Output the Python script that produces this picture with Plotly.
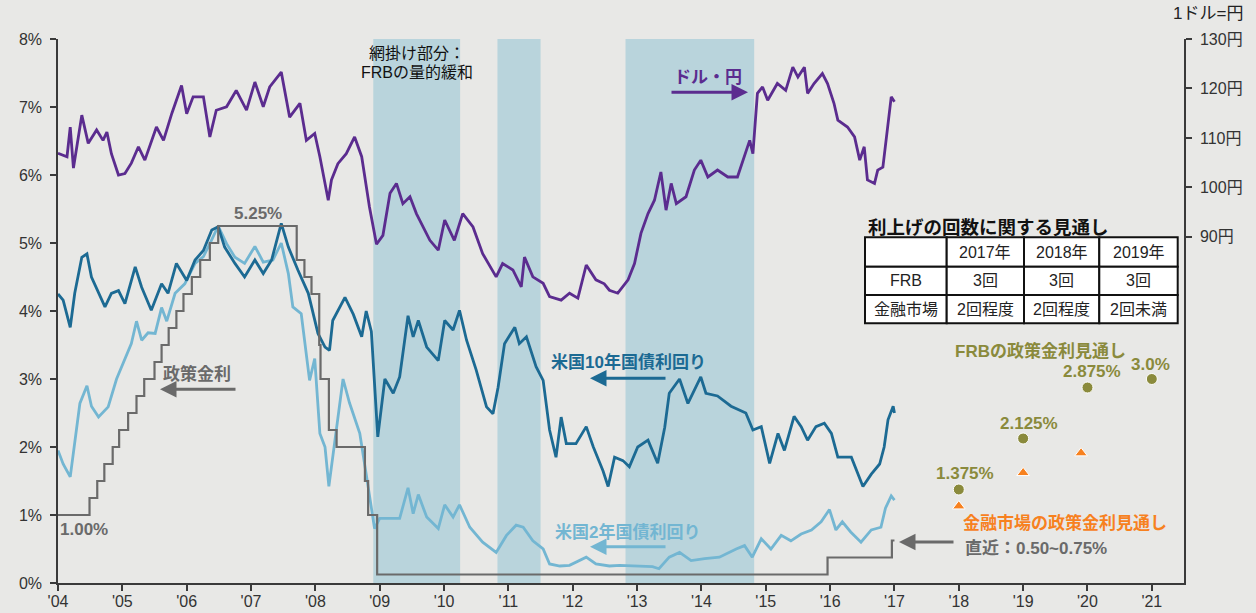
import plotly.graph_objects as go

# ---------------- data ----------------
jpy_x = [2004.00, 2004.14, 2004.19, 2004.24, 2004.37, 2004.47, 2004.60, 2004.70, 2004.76, 2004.83,
         2004.94, 2005.04, 2005.14, 2005.25, 2005.35, 2005.53, 2005.64, 2005.77, 2005.92, 2006.00,
         2006.10, 2006.26, 2006.36, 2006.46, 2006.62, 2006.77, 2006.93, 2007.06, 2007.19, 2007.29,
         2007.47, 2007.60, 2007.76, 2007.86, 2007.99, 2008.07, 2008.20, 2008.25, 2008.35, 2008.48,
         2008.61, 2008.72, 2008.84, 2008.95, 2009.05, 2009.16, 2009.26, 2009.36, 2009.47, 2009.57,
         2009.78, 2009.91, 2010.01, 2010.16, 2010.29, 2010.45, 2010.60, 2010.81, 2010.91, 2011.07,
         2011.20, 2011.25, 2011.38, 2011.54, 2011.64, 2011.82, 2011.95, 2012.08, 2012.21, 2012.36,
         2012.49, 2012.57, 2012.70, 2012.86, 2012.96, 2013.06, 2013.17, 2013.27, 2013.37, 2013.45,
         2013.53, 2013.61, 2013.76, 2013.89, 2013.99, 2014.10, 2014.25, 2014.41, 2014.56, 2014.67,
         2014.75, 2014.80, 2014.87, 2014.95, 2015.03, 2015.18, 2015.31, 2015.42, 2015.50, 2015.60,
         2015.65, 2015.75, 2015.88, 2015.96, 2016.06, 2016.12, 2016.27, 2016.38, 2016.46, 2016.53,
         2016.58, 2016.69, 2016.74, 2016.82, 2016.90, 2016.95, 2017.00]
jpy_y = [106.9, 106.2, 112.2, 103.9, 114.6, 108.9, 111.6, 109.5, 111.2, 106.8,
         102.5, 102.8, 104.9, 108.2, 105.5, 112.2, 109.5, 115.0, 120.6, 114.9,
         118.3, 118.3, 110.2, 115.6, 116.3, 119.6, 115.6, 121.3, 116.3, 120.3,
         123.3, 114.2, 117.0, 109.5, 110.9, 106.2, 97.4, 101.5, 104.8, 106.8,
         110.2, 106.2, 96.1, 88.5, 90.3, 98.8, 100.8, 96.7, 98.1, 94.7,
         89.3, 87.3, 93.4, 89.3, 94.7, 92.0, 86.6, 81.9, 84.6, 83.3,
         79.9, 85.9, 81.9, 80.6, 77.9, 77.2, 78.6, 77.6, 84.3, 81.3,
         80.5, 79.2, 78.6, 81.3, 84.6, 90.7, 94.7, 97.4, 103.1, 95.4,
         100.8, 96.7, 98.1, 103.5, 105.5, 102.1, 103.5, 102.1, 102.1, 106.2,
         109.5, 106.8, 119.0, 120.3, 117.6, 121.0, 119.6, 124.3, 122.3, 124.3,
         119.0, 121.0, 123.0, 121.0, 117.0, 113.6, 112.2, 110.2, 105.5, 108.2,
         101.5, 100.8, 103.5, 104.1, 112.2, 118.3, 117.3]

ust10_x = [2004.00, 2004.08, 2004.19, 2004.26, 2004.37, 2004.45, 2004.52, 2004.63, 2004.73, 2004.83,
           2004.94, 2005.04, 2005.20, 2005.30, 2005.45, 2005.61, 2005.71, 2005.84, 2006.00, 2006.13,
           2006.26, 2006.39, 2006.49, 2006.59, 2006.75, 2006.90, 2007.06, 2007.19, 2007.32, 2007.47,
           2007.58, 2007.73, 2007.89, 2008.04, 2008.15, 2008.22, 2008.27, 2008.46, 2008.59, 2008.72,
           2008.79, 2008.87, 2008.97, 2009.08, 2009.21, 2009.31, 2009.44, 2009.52, 2009.60, 2009.73,
           2009.91, 2010.01, 2010.14, 2010.24, 2010.35, 2010.50, 2010.66, 2010.76, 2010.84, 2010.94,
           2011.10, 2011.17, 2011.28, 2011.43, 2011.54, 2011.64, 2011.74, 2011.82, 2011.90, 2012.05,
           2012.21, 2012.32, 2012.47, 2012.55, 2012.65, 2012.78, 2012.88, 2013.01, 2013.17, 2013.32,
           2013.43, 2013.50, 2013.66, 2013.79, 2013.99, 2014.07, 2014.25, 2014.46, 2014.69, 2014.80,
           2014.93, 2015.06, 2015.19, 2015.29, 2015.44, 2015.55, 2015.65, 2015.78, 2015.91, 2016.02,
           2016.12, 2016.33, 2016.51, 2016.64, 2016.77, 2016.84, 2016.90, 2016.98, 2017.00]
ust10_y = [4.25, 4.16, 3.76, 4.26, 4.79, 4.84, 4.50, 4.26, 4.06, 4.26,
           4.30, 4.11, 4.65, 4.35, 4.01, 4.40, 4.26, 4.70, 4.45, 4.75,
           4.89, 5.19, 5.24, 4.94, 4.70, 4.50, 4.75, 4.55, 4.75, 5.29,
           4.94, 4.60, 4.26, 3.67, 3.47, 3.42, 3.86, 4.20, 3.95, 3.62,
           4.00, 3.70, 2.15, 3.00, 2.79, 3.03, 3.93, 3.62, 3.86, 3.47,
           3.27, 3.86, 3.72, 4.01, 3.57, 3.13, 2.59, 2.49, 2.88, 3.52,
           3.76, 3.52, 3.62, 3.18, 2.98, 2.25, 1.85, 2.44, 2.05, 2.05,
           2.30, 2.00, 1.65, 1.42, 1.85, 1.80, 1.71, 2.00, 2.10, 1.76,
           2.29, 2.79, 3.00, 2.64, 3.03, 2.79, 2.75, 2.60, 2.50, 2.25,
           2.30, 1.76, 2.20, 1.95, 2.45, 2.30, 2.10, 2.30, 2.35, 2.20,
           1.85, 1.85, 1.42, 1.60, 1.75, 2.00, 2.40, 2.60, 2.50]

ust2_x = [2004.00, 2004.08, 2004.19, 2004.26, 2004.34, 2004.45, 2004.52, 2004.63, 2004.78, 2004.91,
          2005.04, 2005.14, 2005.22, 2005.30, 2005.40, 2005.51, 2005.61, 2005.69, 2005.82, 2005.97,
          2006.13, 2006.26, 2006.39, 2006.49, 2006.62, 2006.75, 2006.90, 2007.06, 2007.19, 2007.34,
          2007.47, 2007.58, 2007.65, 2007.78, 2007.91, 2007.99, 2008.07, 2008.15, 2008.21, 2008.30,
          2008.43, 2008.53, 2008.69, 2008.79, 2008.92, 2009.00, 2009.16, 2009.31, 2009.44, 2009.52,
          2009.60, 2009.73, 2009.91, 2010.01, 2010.14, 2010.24, 2010.40, 2010.60, 2010.81, 2010.97,
          2011.12, 2011.23, 2011.38, 2011.54, 2011.64, 2011.80, 2011.95, 2012.21, 2012.36, 2012.57,
          2012.73, 2012.96, 2013.24, 2013.34, 2013.50, 2013.66, 2013.84, 2014.05, 2014.28, 2014.54,
          2014.67, 2014.79, 2014.93, 2015.08, 2015.24, 2015.39, 2015.55, 2015.71, 2015.86, 2015.99,
          2016.09, 2016.19, 2016.32, 2016.48, 2016.64, 2016.79, 2016.86, 2016.95, 2017.00]
ust2_y = [1.95, 1.75, 1.56, 2.05, 2.64, 2.90, 2.60, 2.44, 2.59, 3.00,
          3.30, 3.52, 3.85, 3.57, 3.68, 3.67, 4.05, 3.85, 4.26, 4.40,
          4.70, 4.80, 5.05, 5.25, 4.99, 4.79, 4.70, 4.95, 4.72, 4.75,
          5.00, 4.55, 4.06, 3.96, 2.98, 3.30, 2.20, 2.00, 1.42, 2.10,
          3.00, 2.65, 2.20, 1.60, 0.80, 0.95, 0.95, 0.95, 1.40, 1.02,
          1.30, 0.97, 0.80, 1.15, 0.97, 1.15, 0.82, 0.60, 0.45, 0.70,
          0.85, 0.82, 0.62, 0.50, 0.28, 0.25, 0.26, 0.38, 0.28, 0.25,
          0.26, 0.25, 0.24, 0.21, 0.38, 0.45, 0.33, 0.36, 0.38, 0.50,
          0.55, 0.38, 0.65, 0.50, 0.70, 0.62, 0.72, 0.78, 0.90, 1.08,
          0.78, 0.90, 0.75, 0.60, 0.78, 0.82, 1.10, 1.28, 1.22]

policy_x = [2004.00, 2004.49, 2004.61, 2004.72, 2004.85, 2004.95, 2005.09, 2005.22, 2005.34, 2005.50,
            2005.61, 2005.72, 2005.84, 2005.95, 2006.08, 2006.21, 2006.36, 2006.49, 2007.71, 2007.83,
            2007.94, 2008.06, 2008.08, 2008.21, 2008.33, 2008.77, 2008.82, 2008.96, 2015.96, 2016.96,
            2017.00]
policy_y = [1.00, 1.25, 1.50, 1.75, 2.00, 2.25, 2.50, 2.75, 3.00, 3.25,
            3.50, 3.75, 4.00, 4.25, 4.50, 4.75, 5.00, 5.25, 4.75, 4.50,
            4.25, 3.50, 3.00, 2.25, 2.00, 1.50, 1.00, 0.125, 0.375, 0.625,
            0.625]

frb_x = [2018, 2019, 2020, 2021]
frb_y = [1.375, 2.125, 2.875, 3.0]
frb_labels = ["1.375%", "2.125%", "2.875%", "3.0%"]

market_x = [2018.0, 2019.0, 2019.9]
market_y = [1.13, 1.62, 1.91]

qe_start = [2008.90, 2010.83, 2012.82]
qe_end = [2010.25, 2011.50, 2014.82]

year_ticks = list(range(2004, 2022))
year_labels = ["'%02d" % (y % 100) for y in year_ticks]
pct_ticks = list(range(0, 9))
pct_labels = ["%d%%" % v for v in pct_ticks]
yen_ticks = [90, 100, 110, 120, 130]
yen_labels = ["%d円" % v for v in yen_ticks]

table_header = ["", "2017年", "2018年", "2019年"]
table_frb = ["FRB", "3回", "3回", "3回"]
table_mkt = ["金融市場", "2回程度", "2回程度", "2回未満"]

# ---------------- styling / layout ----------------
W, H = 1256, 613
L, R, T, B = 58, 72, 39, 30
PW, PH = W - L - R, H - T - B


def px(x):
    return (x - L) / PW


def py(y):
    return (H - B - y) / PH


FONT = "Liberation Sans, Arial, Noto Sans CJK JP, sans-serif"
BG = "#e8e8e6"
C_JPY = "#5b2c8f"
C_10 = "#1c6a93"
C_2 = "#73b6d2"
C_POL = "#6a6a6a"
C_OLIVE = "#8a8a3c"
C_ORANGE = "#f7811f"
C_QE = "#b9d4dc"
C_AX = "#3a3a3a"

fig = go.Figure()
fig.add_trace(go.Scatter(x=ust2_x, y=ust2_y, mode="lines", line=dict(color=C_2, width=2.8)))
fig.add_trace(go.Scatter(x=ust10_x, y=ust10_y, mode="lines", line=dict(color=C_10, width=2.8)))
fig.add_trace(go.Scatter(x=policy_x, y=policy_y, mode="lines", line=dict(color=C_POL, width=2.2, shape="hv")))
fig.add_trace(go.Scatter(x=jpy_x, y=jpy_y, mode="lines", yaxis="y2", line=dict(color=C_JPY, width=2.8)))
fig.add_trace(go.Scatter(x=frb_x, y=frb_y, mode="markers",
                         marker=dict(color=C_OLIVE, size=11, line=dict(color="white", width=1))))
fig.add_trace(go.Scatter(x=market_x, y=market_y, mode="markers",
                         marker=dict(color=C_ORANGE, size=11, symbol="triangle-up",
                                     line=dict(color="white", width=1))))

shapes = []
for s, e in zip(qe_start, qe_end):
    shapes.append(dict(type="rect", xref="x", yref="paper", x0=s, x1=e, y0=0, y1=1,
                       fillcolor=C_QE, line=dict(width=0), layer="below"))

# table
col_px = [865, 946.7, 1024, 1099.3, 1177.7]
row_px = [237.3, 266.7, 295, 323.3]
rows = [table_header, table_frb, table_mkt]
annotations = []
for ri, row in enumerate(rows):
    for ci, cell in enumerate(row):
        shapes.append(dict(type="rect", xref="paper", yref="paper",
                           x0=px(col_px[ci]), x1=px(col_px[ci + 1]),
                           y0=py(row_px[ri + 1]), y1=py(row_px[ri]),
                           fillcolor="white", line=dict(color="#111111", width=2), layer="above"))
        if cell:
            annotations.append(dict(xref="paper", yref="paper",
                                    x=px((col_px[ci] + col_px[ci + 1]) / 2),
                                    y=py((row_px[ri] + row_px[ri + 1]) / 2),
                                    xanchor="center", yanchor="middle",
                                    text=cell, showarrow=False,
                                    font=dict(size=16, color="#222222", family=FONT)))


def txt(x, y, text, color, size=17, bold=True, xanchor="center"):
    t = "<b>%s</b>" % text if bold else text
    annotations.append(dict(xref="paper", yref="paper", x=px(x), y=py(y), text=t,
                            showarrow=False, xanchor=xanchor, yanchor="middle",
                            font=dict(size=size, color=color, family=FONT)))


def arrow(x_head, x_tail, y, color):
    annotations.append(dict(xref="paper", yref="paper", x=px(x_head), y=py(y),
                            ax=x_tail - x_head, ay=0, axref="pixel", ayref="pixel",
                            text="", showarrow=True, arrowhead=2, arrowsize=1.1,
                            arrowwidth=3, arrowcolor=color, standoff=0, startstandoff=0))


txt(866, 227, "利上げの回数に関する見通し", "#111111", size=18.5, xanchor="left")
txt(416.7, 53.3, "網掛け部分：", "#111111", size=16, bold=False)
txt(416.7, 72.7, "FRBの量的緩和", "#111111", size=16, bold=False)
txt(708.3, 77.7, "ドル・円", C_JPY)
arrow(748, 670, 92.3, C_JPY)
txt(258, 213.3, "5.25%", C_POL)
txt(84.2, 529.3, "1.00%", C_POL)
txt(197, 374, "政策金利", C_POL)
arrow(160, 237, 389.3, C_POL)
txt(628, 362.3, "米国10年国債利回り", C_10)
arrow(590, 667, 378.3, C_10)
txt(627.5, 531.7, "米国2年国債利回り", C_2)
arrow(590, 667, 546.7, C_2)
txt(1040.8, 350.7, "FRBの政策金利見通し", C_OLIVE)
for lx, ly, lab in zip([964.7, 1029.2, 1091.8, 1150.8], [473.3, 423.3, 371.7, 364.3], frb_labels):
    txt(lx, ly, lab, C_OLIVE)
txt(1065, 523.3, "金融市場の政策金利見通し", C_ORANGE)
txt(962.7, 548.3, "直近：0.50~0.75%", C_POL, xanchor="left")
arrow(899, 955, 542, C_POL)
txt(1207.5, 13.3, "1ドル=円", "#222222", size=17, bold=False)

axis_common = dict(showgrid=False, zeroline=False, showline=True, linecolor=C_AX, linewidth=1.5,
                   ticks="outside", ticklen=6, tickcolor=C_AX, tickwidth=1.5,
                   tickfont=dict(size=16, color="#333333", family=FONT))

fig.update_layout(
    width=W, height=H, margin=dict(l=L, r=R, t=T, b=B, autoexpand=False),
    paper_bgcolor=BG, plot_bgcolor=BG, showlegend=False,
    font=dict(family=FONT),
    xaxis=dict(range=[2004, 2021.5], tickmode="array", tickvals=year_ticks, ticktext=year_labels,
               ticklabelstandoff=-3, **axis_common),
    yaxis=dict(range=[0, 8], tickmode="array", tickvals=pct_ticks, ticktext=pct_labels,
               ticklabelstandoff=5, **axis_common),
    yaxis2=dict(range=[20, 130], tickmode="array", tickvals=yen_ticks, ticktext=yen_labels,
                overlaying="y", side="right", ticklabelstandoff=5, **axis_common),
    shapes=shapes, annotations=annotations,
)

fig.write_html("out.html", config={"displayModeBar": False},
               post_script="document.body.style.margin='0';document.body.style.overflow='hidden';")
